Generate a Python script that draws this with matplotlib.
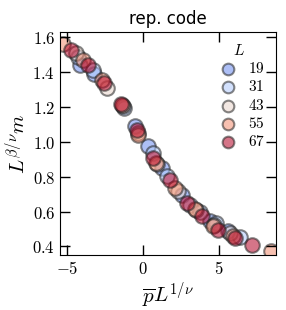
import matplotlib
matplotlib.use("Agg")
import matplotlib.pyplot as plt
import numpy as np
from matplotlib.ticker import FuncFormatter

plt.rcParams['mathtext.fontset'] = 'cm'

sizes = [19, 31, 43, 55, 67]
x19 = [-4.12, -3.2, -0.53, 0.35, 1.23, 2.55, 4.4, 5.6]
y19 = [1.44, 1.39, 1.09, 0.973, 0.85, 0.697, 0.545, 0.491]
x31 = [-4.3, -3.27, -1.25, 0.64, 1.56, 3.09, 3.75, 4.8, 6.38]
y31 = [1.487, 1.41, 1.196, 0.937, 0.802, 0.64, 0.60, 0.535, 0.453]
x43 = [-4.41, -2.35, -1.3, -0.35, 0.9, 2.3, 3.5, 4.7, 5.7]
y43 = [1.507, 1.31, 1.205, 1.05, 0.87, 0.72, 0.61, 0.52, 0.475]
x55 = [-5.28, -3.93, -2.72, -1.4, -0.31, 0.86, 2.1, 3.42, 4.63, 5.94, 8.4]
y55 = [1.558, 1.469, 1.354, 1.21, 1.04, 0.878, 0.735, 0.617, 0.516, 0.459, 0.373]
x67 = [-4.76, -3.6, -2.57, -1.47, -0.41, 0.64, 1.78, 2.87, 3.9, 4.95, 6.05, 7.15]
y67 = [1.526, 1.44, 1.335, 1.215, 1.069, 0.907, 0.779, 0.65, 0.573, 0.497, 0.446, 0.407]
xs = [x19, x31, x43, x55, x67]
ys = [y19, y31, y43, y55, y67]

fig = plt.figure(figsize=(2.86, 3.10), dpi=100)
ax = fig.add_axes([0.21, 0.178, 0.755, 0.719])
cmap = plt.get_cmap('coolwarm')
cols = [cmap(v) for v in [0.15, 0.35, 0.55, 0.78, 1.0]]
for L, x, y, c in zip(sizes, xs, ys, cols):
    ax.scatter(x, y, s=110, facecolor=c, edgecolor='#222222', alpha=0.55,
               linewidth=1.5, label=f'${L}$')

ax.set_xlim(-5.46, 8.75)
ax.set_ylim(0.352, 1.629)
ax.set_xticks([-5, 0, 5])
ax.set_yticks([0.4, 0.6, 0.8, 1.0, 1.2, 1.4, 1.6])
ax.xaxis.set_major_formatter(FuncFormatter(lambda v, p: f'${v:.0f}$'))
ax.yaxis.set_major_formatter(FuncFormatter(lambda v, p: f'${v:.1f}$'))
ax.tick_params(direction='in', top=True, right=True, length=7, width=1, labelsize=12)
ax.set_xlabel(r'$\overline{p}L^{1/\nu}$', fontsize=15, labelpad=2)
ax.set_ylabel(r'$L^{\beta/\nu}m$', fontsize=15, labelpad=2)
ax.set_title('rep. code', fontsize=12)
leg = ax.legend(title='$L$', frameon=False, loc='upper right', fontsize=11,
                title_fontsize=11, handletextpad=0.3, labelspacing=0.22,
                borderaxespad=0.3, markerscale=0.8)
fig.savefig('out.png', dpi=100)
